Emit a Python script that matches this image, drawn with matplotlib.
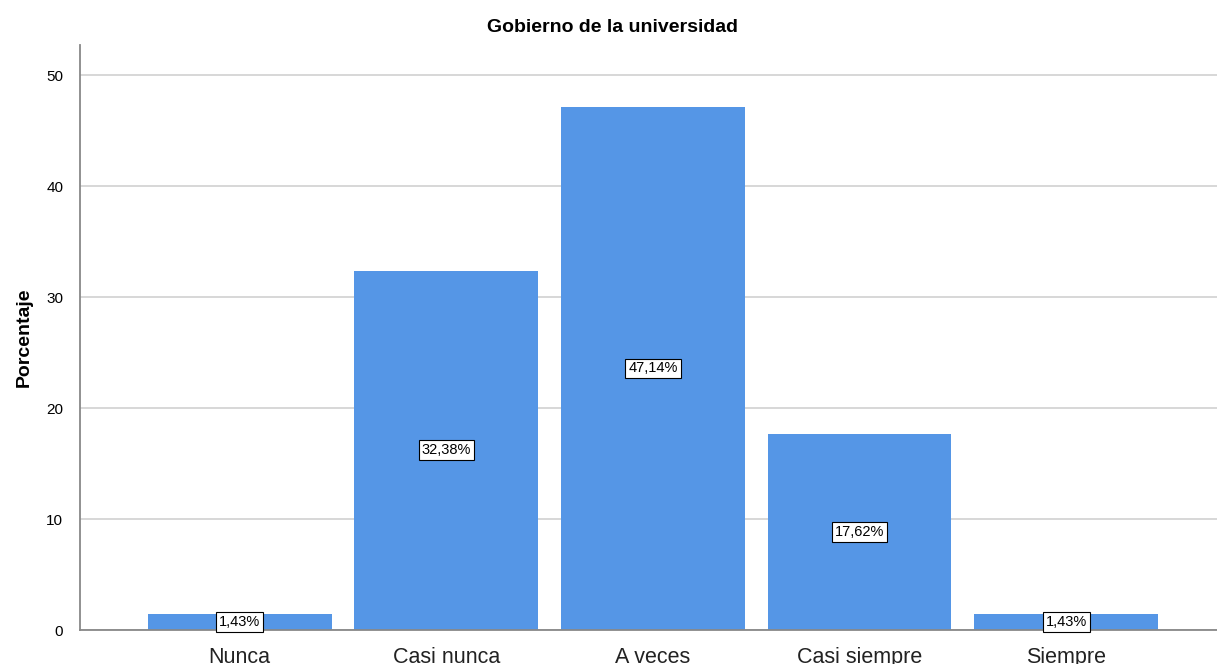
import matplotlib.pyplot as plt

plt.rcParams['font.family'] = ['Liberation Sans', 'DejaVu Sans']

categories = ['Nunca', 'Casi nunca', 'A veces', 'Casi siempre', 'Siempre']
percentages = [1.43, 32.38, 47.14, 17.62, 1.43]
bar_labels = ['1,43%', '32,38%', '47,14%', '17,62%', '1,43%']

fig = plt.figure(figsize=(12.17, 6.64), dpi=100)
ax = fig.add_axes([0.0657, 0.0512, 0.9343, 0.8808])

x = range(len(categories))
ax.bar(x, percentages, width=0.89, color='#5596e6', zorder=2)

for i, (v, lab) in enumerate(zip(percentages, bar_labels)):
    ax.text(i, v / 2, lab, ha='center', va='center', fontsize=10.5, zorder=3,
            bbox=dict(boxstyle='square,pad=0.2', facecolor='white', edgecolor='black', linewidth=0.8))

ax.set_xlim(-0.773, 4.73)
ax.set_ylim(0, 52.7)
ax.set_yticks([0, 10, 20, 30, 40, 50])
ax.set_xticks(list(x))
ax.set_xticklabels(categories, fontsize=15.5, color='#222222')
ax.tick_params(axis='both', length=0)
ax.tick_params(axis='y', labelsize=11, pad=12)
ax.tick_params(axis='x', pad=12)

ax.yaxis.grid(True, color='#d4d4d4', linewidth=1.3, zorder=0)
ax.set_axisbelow(True)
for s in ['top', 'right']:
    ax.spines[s].set_visible(False)
ax.spines['left'].set_color('#888888')
ax.spines['bottom'].set_color('#888888')
ax.spines['left'].set_linewidth(1.3)
ax.spines['bottom'].set_linewidth(1.3)

ax.set_ylabel('Porcentaje', fontsize=14, fontweight='bold', labelpad=10)
fig.text(0.503, 0.958, 'Gobierno de la universidad', ha='center', va='center',
         fontsize=14, fontweight='bold')

fig.savefig('out.png', dpi=100)
